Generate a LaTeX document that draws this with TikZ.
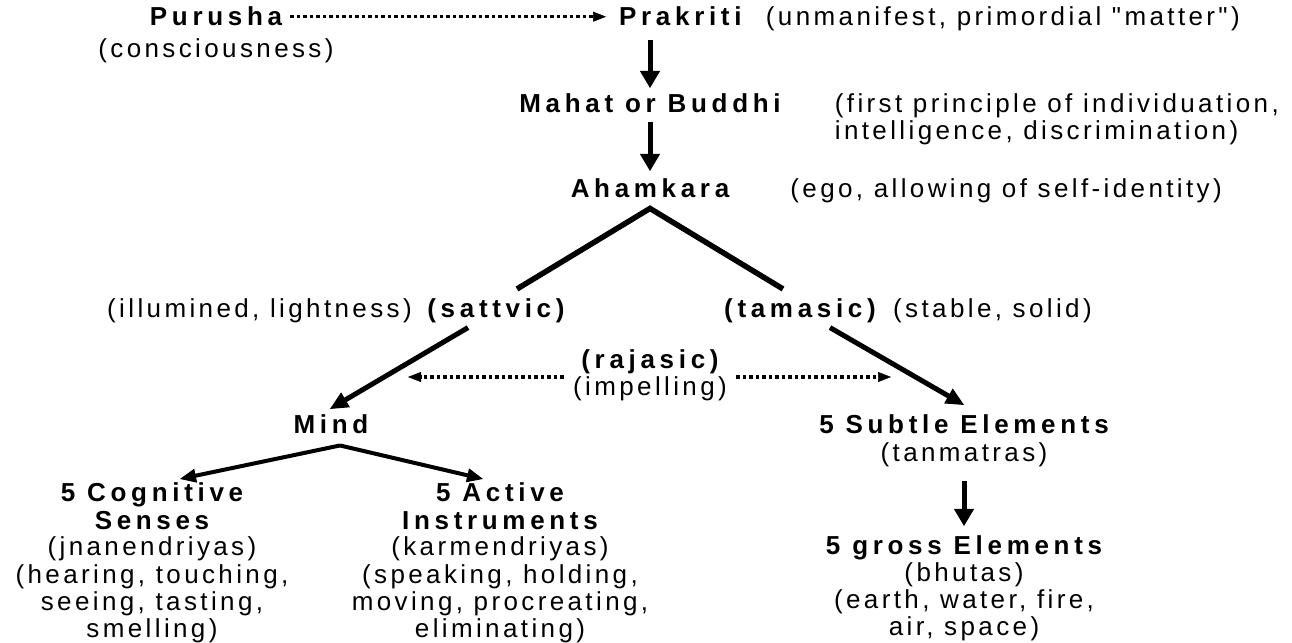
\documentclass[tikz,border=0pt]{standalone}
\usepackage{fontspec}
\setmainfont{Liberation Sans}[Ligatures=TeXOff,LetterSpace=13,BoldFeatures={LetterSpace=18}]
\usetikzlibrary{arrows.meta}
\begin{document}
\begin{tikzpicture}[x=1pt,y=-1pt,
  every node/.style={inner sep=0pt, anchor=base, font=\fontsize{26}{30}\selectfont},
  bt/.style={font=\fontsize{26}{30}\selectfont\bfseries},
  big/.style={line width=5pt, -{Triangle[length=17pt,width=20pt,line width=1pt]}},
  diag/.style={line width=5pt, -{Triangle[length=18pt,width=17pt,line width=1pt]}},
  fork/.style={line width=5.5pt, line join=miter},
  branch/.style={line width=4pt, -{Triangle[length=16pt,width=14pt,line width=1pt]}},
  dotarr/.style={line width=3.5pt, dash pattern=on 3.5pt off 3pt, -{Triangle[length=13pt,width=10pt,line width=0.5pt]}}
]
\useasboundingbox[fill=white] (0,0) rectangle (1292,642);

% top rows
\node[bt] (purusha) at (216,26) {Purusha};
\node (consc) at (216,57) {(consciousness)};
\node[bt,anchor=base west] (prakriti) at (619,26) {Prakriti};
\node[anchor=base east] (unman) at (1240,26) {(unmanifest, primordial "matter")};
\node[bt] (mahat) at (650,112) {Mahat or Buddhi};
\node[anchor=base east] (first) at (1279,112) {(first principle of individuation,};
\node[anchor=base west] (intel) at ([yshift=-27pt]first.base west) {intelligence, discrimination)};
\node[bt] (aham) at (650,197) {Ahamkara};
\node[anchor=base east] (ego) at (1222,197) {(ego, allowing of self-identity)};

% gunas
\node[bt] (sattvic) at (496,317) {(sattvic)};
\node[anchor=base east] (illum) at (412,317) {(illumined, lightness)};
\node[bt] (tamasic) at (800,317) {(tamasic)};
\node[anchor=base west] (stable) at (893,317) {(stable, solid)};
\node[bt] (rajasic) at (650,368) {(rajasic)};
\node (impel) at (650,395) {(impelling)};

% lower left
\node[bt] (mind) at (331,433) {Mind};
\node[bt] (cog) at (152,501) {5 Cognitive};
\node[bt] (senses) at (152,529) {Senses};
\node (jnan) at (152,555) {(jnanendriyas)};
\node (hear) at (152,583) {(hearing, touching,};
\node (see) at (152,610) {seeing, tasting,};
\node (smell) at (152,637) {smelling)};
\node[bt] (act) at (500,501) {5 Active};
\node[bt] (instr) at (500,529) {Instruments};
\node (karm) at (500,555) {(karmendriyas)};
\node (speak) at (500,583) {(speaking, holding,};
\node (move) at (500,610) {moving, procreating,};
\node (elim) at (500,637) {eliminating)};

% lower right
\node[bt] (subtle) at (964,433) {5 Subtle Elements};
\node (tanm) at (964,461) {(tanmatras)};
\node[bt] (gross) at (964,554) {5 gross Elements};
\node (bhutas) at (964,581) {(bhutas)};
\node (earth) at (964,608) {(earth, water, fire,};
\node (air) at (964,635) {air, space)};

% connectors
\draw[dotarr] ([xshift=8pt]purusha.east) -- ([xshift=-13pt]prakriti.west);
\draw[big] ([yshift=-14pt]prakriti.south -| mahat.north) -- ([yshift=5pt]mahat.north);
\draw[big] ([yshift=-10pt]mahat.south) -- ([yshift=7pt]aham.north);
\coordinate (apex) at ([yshift=-11pt]aham.south);
\draw[fork] ([xshift=21pt,yshift=9pt]sattvic.north) -- (apex) -- ([xshift=-17pt,yshift=9pt]tamasic.north);
\draw[diag] ([xshift=-28pt,yshift=-5pt]sattvic.south) -- ([xshift=-1pt,yshift=5pt]mind.north);
\draw[diag] ([xshift=30pt,yshift=-5pt]tamasic.south) -- ([yshift=9pt]subtle.north);
\coordinate (rl) at (408,377);
\coordinate (rr) at (891,377);
\draw[dotarr] ([xshift=-9pt]impel.west |- rl) -- (rl);
\draw[dotarr] ([xshift=9pt]impel.east |- rr) -- (rr);
\coordinate (mfork) at ([xshift=9pt,yshift=-12pt]mind.south);
\draw[branch] (mfork) -- ([xshift=28pt,yshift=3pt]cog.north);
\draw[branch] (mfork) -- ([xshift=-17pt,yshift=3pt]act.north);
\draw[big] ([yshift=-14pt]tanm.south) -- ([yshift=9pt]gross.north);
\end{tikzpicture}
\end{document}
